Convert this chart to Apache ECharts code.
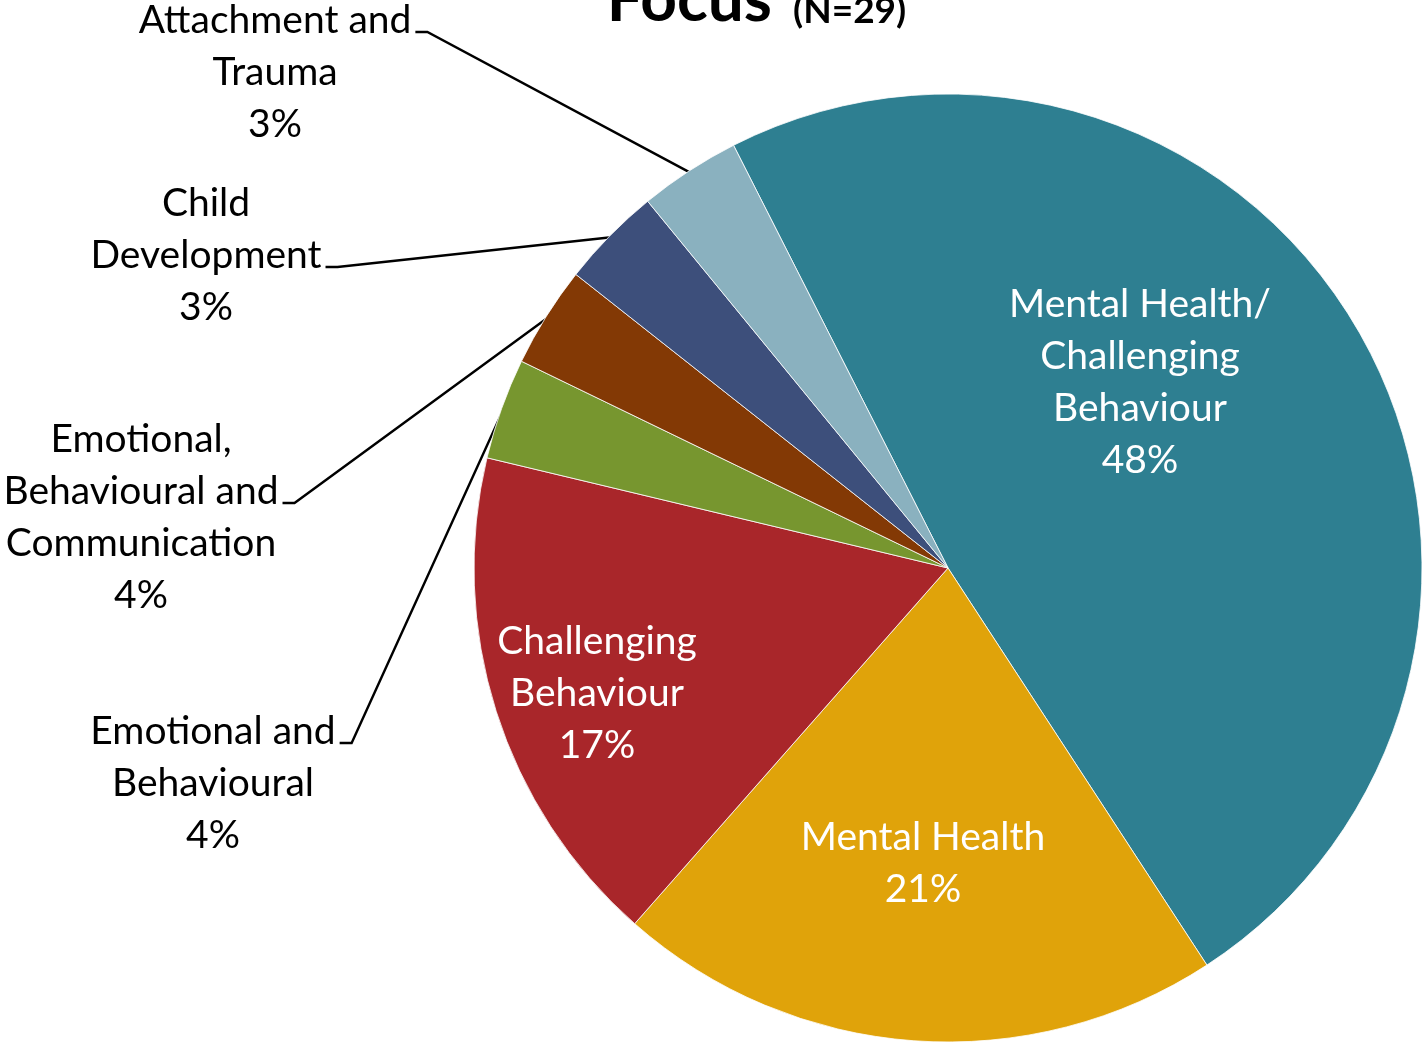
<!DOCTYPE html>
<html>
<head>
<meta charset="utf-8">
<script src="https://cdn.jsdelivr.net/npm/echarts@6/dist/echarts.min.js"></script>
<style>
html,body{margin:0;padding:0;background:#fff;}
#chart{width:1427px;height:1044px;}
</style>
</head>
<body>
<div id="chart"></div>
<script>
// ---- data ----
const categories = [
  'Mental Health/\nChallenging\nBehaviour',
  'Mental Health',
  'Challenging\nBehaviour',
  'Emotional and\nBehavioural',
  'Emotional,\nBehavioural and\nCommunication',
  'Child\nDevelopment',
  'Attachment and\nTrauma'
];
const counts = [14, 6, 5, 1, 1, 1, 1];
const pctLabels = ['48%', '21%', '17%', '4%', '4%', '3%', '3%'];
const titleMain = 'Focus';
const titleSub = '(N=29)';

// ---- styling / layout ----
const colors = ['#2E7F91', '#E0A30A', '#A9262A', '#77962F', '#833905', '#3D4F7B', '#8AB1BF'];
const CX = 948, CY = 568, R = 474;
const START = 116.9; // echarts startAngle (deg, ccw from 3 o'clock)
const FONT = 39, LH = 52;
const LINE_W = 2.4;
// label block centres; inside = white text; stubLine = which text line the leader attaches to
const labelPos = [
  {x: 1140, y: 382, inside: true},
  {x: 923, y: 863, inside: true},
  {x: 597, y: 693, inside: true},
  {x: 213, y: 783, inside: false, stubLine: 0},
  {x: 141, y: 517, inside: false, stubLine: 1},
  {x: 206, y: 255, inside: false, stubLine: 1},
  {x: 275, y: 72, inside: false, stubLine: 0}
];

const total = counts.reduce((a, b) => a + b, 0);
const startCw = 90 - START;
const midAngles = [];
let acc = 0;
counts.forEach(v => {
  const span = v / total * 360;
  midAngles.push(startCw + acc + span / 2);
  acc += span;
});

const chart = echarts.init(document.getElementById('chart'), null, {renderer: 'canvas'});

const data = counts.map((v, i) => ({
  value: v,
  name: categories[i],
  itemStyle: {color: colors[i]},
  label: labelPos[i].inside
    ? {position: 'inside', color: '#ffffff'}
    : {position: 'outside', color: '#000000'},
  labelLine: {show: !labelPos[i].inside, lineStyle: {color: '#000000', width: LINE_W}}
}));

chart.setOption({
  animation: false,
  backgroundColor: '#ffffff',
  graphic: [
    {type: 'text', right: 1427 - 772, top: -32, z: 10,
      style: {text: titleMain, font: 'bold 64px Lato', fill: '#000'}},
    {type: 'text', left: 793, top: -7, z: 10,
      style: {text: titleSub, font: 'bold 37px Lato', fill: '#000'}}
  ],
  series: [{
    type: 'pie',
    center: [CX, CY],
    radius: R,
    startAngle: START,
    clockwise: true,
    avoidLabelOverlap: false,
    data: data,
    itemStyle: {borderColor: '#ffffff', borderWidth: 0.8},
    label: {
      show: true,
      fontFamily: 'Lato',
      fontSize: FONT,
      lineHeight: LH,
      align: 'center',
      formatter: p => categories[p.dataIndex] + '\n' + pctLabels[p.dataIndex]
    },
    labelLine: {show: true, lineStyle: {color: '#000', width: LINE_W}, length: 20, length2: 10},
    labelLayout: function (params) {
      const i = params.dataIndex;
      const lp = labelPos[i];
      const res = {x: lp.x, y: lp.y, align: 'center', verticalAlign: 'middle'};
      if (!lp.inside) {
        const n = (categories[i].split('\n').length + 1);
        const a = midAngles[i] * Math.PI / 180;
        const ax = CX + (R - 2) * Math.sin(a);
        const ay = CY - (R - 2) * Math.cos(a);
        const stubY = lp.y + (lp.stubLine - (n - 1) / 2) * LH + 12;
        const rightX = lp.x + params.labelRect.width / 2 + 4;
        res.labelLinePoints = [[ax, ay], [rightX + 12, stubY], [rightX, stubY]];
      }
      return res;
    }
  }]
});
</script>
</body>
</html>
